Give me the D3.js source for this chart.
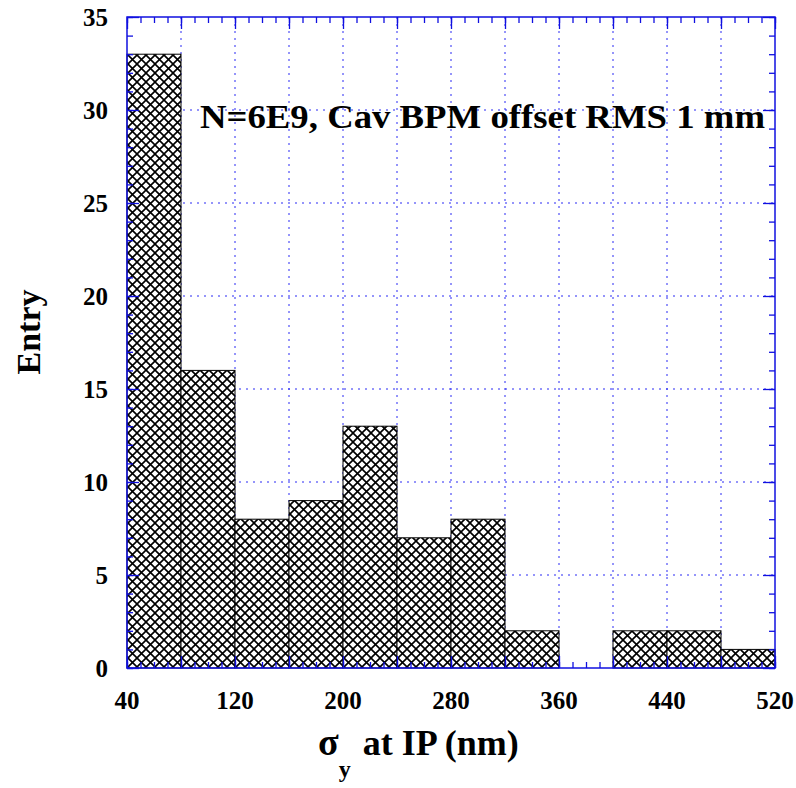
<!DOCTYPE html>
<html>
<head>
<meta charset="utf-8">
<style>
    body {
        margin: 0;
        background: #fff;
    }
    text {
        font-family: "Liberation Serif", "Times New Roman", serif;
        font-weight: bold;
        fill: #000;
    }
</style>
<script src="https://d3js.org/d3.v7.min.js"></script>
</head>
<body>
<svg id="chart" width="796" height="788"></svg>
<script>
    // histogram data: bin low edges and counts (bin width 40 nm)
    const binLow = [40, 80, 120, 160, 200, 240, 280, 320, 360, 400, 440, 480];
    const counts = [33, 16, 8, 9, 13, 7, 8, 2, 0, 2, 2, 1];
    const binWidth = 40;

    const xLabelTicks = [40, 120, 200, 280, 360, 440, 520];
    const xGridTicks = [80, 120, 160, 200, 240, 280, 320, 360, 400, 440, 480];
    const yLabelTicks = [0, 5, 10, 15, 20, 25, 30, 35];
    const yGridTicks = [5, 10, 15, 20, 25, 30];

    const titleText = "N=6E9, Cav BPM offset RMS 1 mm";

    // plot frame
    const margin = {top: 17, right: 21, bottom: 120, left: 127},
        width = 796 - margin.left - margin.right,
        height = 788 - margin.top - margin.bottom;

    const svg = d3.select("#chart");
    const g = svg.append("g")
        .attr("transform", "translate(" + margin.left + "," + margin.top + ")");

    const x = d3.scaleLinear().domain([40, 520]).range([0, width]);
    const y = d3.scaleLinear().domain([0, 35]).range([height, 0]);

    // cross hatch pattern
    const defs = svg.append("defs");
    const pat = defs.append("pattern")
        .attr("id", "hatch")
        .attr("patternUnits", "userSpaceOnUse")
        .attr("x", margin.left)
        .attr("y", margin.top + height)
        .attr("width", 9)
        .attr("height", 9);
    pat.append("rect").attr("width", 9).attr("height", 9).attr("fill", "#fff");
    pat.append("path")
        .attr("d", "M-1,-1L10,10M-1,10L10,-1")
        .attr("stroke", "#000")
        .attr("stroke-width", 1.6);

    // grid
    const gridColor = "#2a2af5";
    g.append("g").selectAll("line")
        .data(xGridTicks)
        .join("line")
        .attr("x1", d => x(d)).attr("x2", d => x(d))
        .attr("y1", 0).attr("y2", height)
        .attr("stroke", gridColor)
        .attr("stroke-width", 1)
        .attr("stroke-dasharray", "2,5");
    g.append("g").selectAll("line")
        .data(yGridTicks)
        .join("line")
        .attr("x1", 0).attr("x2", width)
        .attr("y1", d => y(d)).attr("y2", d => y(d))
        .attr("stroke", gridColor)
        .attr("stroke-width", 1)
        .attr("stroke-dasharray", "2,5");

    // bars
    g.append("g").selectAll("rect")
        .data(binLow.map((d, i) => ({lo: d, n: counts[i]})).filter(d => d.n > 0))
        .join("rect")
        .attr("x", d => x(d.lo))
        .attr("y", d => y(d.n))
        .attr("width", d => x(d.lo + binWidth) - x(d.lo))
        .attr("height", d => y(0) - y(d.n))
        .attr("fill", "url(#hatch)")
        .attr("stroke", "#000")
        .attr("stroke-width", 1);

    // title text inside the frame
    g.append("text")
        .attr("x", 73)
        .attr("y", 111)
        .attr("font-size", 33)
        .attr("textLength", 565)
        .attr("lengthAdjust", "spacingAndGlyphs")
        .text(titleText);

    // axes: ticks pointing inward on all four sides
    const axisColor = "#1010e0";
    function styleAxis(sel) {
        sel.select(".domain").remove();
        sel.selectAll("line").attr("stroke", axisColor).attr("stroke-width", 1.3);
        sel.selectAll("text").remove();
    }
    const xMajor = d3.range(40, 521, 40);
    const xMinor = d3.range(40, 521, 10);
    const yMajor = d3.range(0, 36, 5);
    const yMinor = d3.range(0, 36, 1);

    g.append("g").attr("transform", "translate(0," + height + ")")
        .call(d3.axisTop(x).tickValues(xMinor).tickSize(6)).call(styleAxis);
    g.append("g").attr("transform", "translate(0," + height + ")")
        .call(d3.axisTop(x).tickValues(xMajor).tickSize(12)).call(styleAxis);
    g.append("g")
        .call(d3.axisBottom(x).tickValues(xMinor).tickSize(6)).call(styleAxis);
    g.append("g")
        .call(d3.axisBottom(x).tickValues(xMajor).tickSize(12)).call(styleAxis);
    g.append("g")
        .call(d3.axisRight(y).tickValues(yMinor).tickSize(6)).call(styleAxis);
    g.append("g")
        .call(d3.axisRight(y).tickValues(yMajor).tickSize(12)).call(styleAxis);
    g.append("g").attr("transform", "translate(" + width + ",0)")
        .call(d3.axisLeft(y).tickValues(yMinor).tickSize(6)).call(styleAxis);
    g.append("g").attr("transform", "translate(" + width + ",0)")
        .call(d3.axisLeft(y).tickValues(yMajor).tickSize(12)).call(styleAxis);

    // frame
    g.append("rect")
        .attr("width", width).attr("height", height)
        .attr("fill", "none")
        .attr("stroke", axisColor)
        .attr("stroke-width", 1.5);

    // tick labels
    g.append("g").selectAll("text")
        .data(xLabelTicks)
        .join("text")
        .attr("x", d => x(d))
        .attr("y", height + 41)
        .attr("text-anchor", "middle")
        .attr("font-size", 25)
        .text(d => d);
    g.append("g").selectAll("text")
        .data(yLabelTicks)
        .join("text")
        .attr("x", -19)
        .attr("y", d => y(d))
        .attr("dy", "0.35em")
        .attr("text-anchor", "end")
        .attr("font-size", 25)
        .text(d => d);

    // axis titles
    svg.append("text")
        .attr("transform", "translate(40,332) rotate(-90)")
        .attr("text-anchor", "middle")
        .attr("font-size", 34)
        .text("Entry");

    const xt = svg.append("text")
        .attr("x", 318)
        .attr("y", 755)
        .attr("font-size", 36);
    xt.append("tspan").attr("font-size", 38).text("σ");
    xt.append("tspan").attr("dy", 22).attr("font-size", 24).text("y");
    xt.append("tspan").attr("dy", -22).attr("dx", 12).text("at IP (nm)");
</script>
</body>
</html>
